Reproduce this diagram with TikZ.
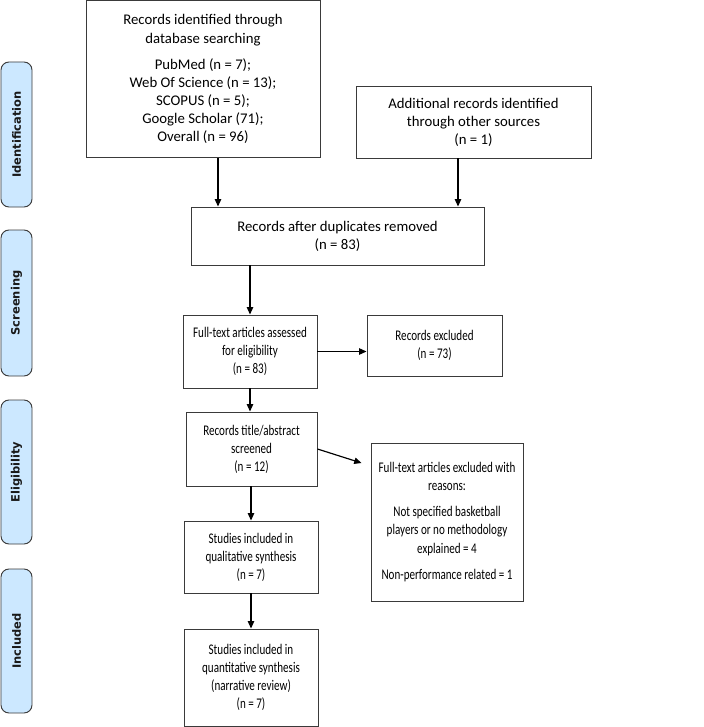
\documentclass[tikz,border=0pt]{standalone}
\usepackage{fontspec}
\setmainfont{Carlito}
\newfontfamily\narrowfont[FakeStretch=0.75]{Carlito}
\newfontfamily\sidefont{DejaVu Sans}
\usepackage{tikz}
\usetikzlibrary{arrows.meta, positioning, calc}

\definecolor{StageBlue}{HTML}{CCE8FF}
\definecolor{EdgeGray}{HTML}{3A3A3A}

\tikzset{
  box/.style={draw=EdgeGray, line width=0.8pt, align=center, inner sep=0pt,
    font=\fontsize{12.6}{15.4}\selectfont},
  narrowbox/.style={box, font=\narrowfont\fontsize{12.6}{15.4}\selectfont},
  stage/.style={draw=EdgeGray, fill=StageBlue, line width=0.8pt, rounded corners=2.4mm,
    minimum width=9.3mm, inner sep=0pt},
  stagetext/.style={rotate=90, font=\sidefont\bfseries\fontsize{9.8}{11}\selectfont, text=black!90},
  arr/.style={->, line width=1pt},
}

\begin{document}
\begin{tikzpicture}[x=0.3mm, y=-0.3mm, >={Triangle[length=2.2mm, width=1.9mm]}]
  \useasboundingbox (0,0) rectangle (704,727);
  % stages on the left
  \node[stage, minimum height=43.5mm] (ident) at (16.5,134.5) {};
  \node[stagetext] at (ident) {Identification};
  \node[stage, minimum height=43.8mm] (screen) at (16.5,303) {};
  \node[stagetext] at (screen) {Screening};
  \node[stage, minimum height=43.2mm] (elig) at (16.5,472) {};
  \node[stagetext] at (elig) {Eligibility};
  \node[stage, minimum height=43.2mm] (incl) at (16.5,641) {};
  \node[stagetext] at (incl) {Included};

  % boxes
  \node[box, minimum width=70.2mm, minimum height=47.1mm] (dbsearch) at (203,79)
    {Records identified through\\ database searching\\[6.8pt]
     PubMed (n = 7);\\ Web Of Science (n = 13);\\ SCOPUS (n = 5);\\
     Google Scholar (71);\\ Overall (n = 96)};
  \node[box, minimum width=70.5mm, minimum height=21.6mm] (other) at (473.5,122)
    {Additional records identified\\ through other sources\\ (n = 1)};
  \node[box, minimum width=87.9mm, minimum height=17.4mm] (dedup) at (337.5,236)
    {Records after duplicates removed\\ (n = 83)};
  \node[narrowbox, minimum width=40.2mm, minimum height=21.9mm] (fulltext) at (250,351.5)
    {Full-text articles assessed\\ for eligibility\\ (n = 83)};
  \node[narrowbox, minimum width=40.5mm, minimum height=18.3mm] (excl) at (434.5,345.5)
    {Records excluded\\ (n = 73)};
  \node[narrowbox, minimum width=39.3mm, minimum height=22.2mm] (screened) at (251.5,449)
    {Records title/abstract\\ screened\\ (n = 12)};
  \node[narrowbox, minimum width=45.6mm, minimum height=47.4mm] (reasons) at (447,522)
    {Full-text articles excluded with\\ reasons:\\[6.8pt]
     Not specified basketball\\ players or no methodology\\ explained = 4\\[6.8pt]
     Non-performance related = 1};
  \node[narrowbox, minimum width=40.2mm, minimum height=21.6mm] (qual) at (251,557)
    {Studies included in\\ qualitative synthesis\\ (n = 7)};
  \node[narrowbox, minimum width=40.2mm, minimum height=29.1mm] (quant) at (251,677.5)
    {Studies included in\\ quantitative synthesis\\ (narrative review)\\ (n = 7)};

  % arrows
  \draw[arr] ([xshift=4.5mm]dbsearch.south) -- ([xshift=4.5mm]dbsearch.south |- dedup.north);
  \draw[arr] ([xshift=-4.65mm]other.south) -- ([xshift=-4.65mm]other.south |- dedup.north);
  \draw[arr] (dedup.south -| fulltext.north) -- (fulltext.north);
  \draw[arr] (fulltext.east) -- (fulltext.east -| excl.west);
  \draw[arr] (fulltext.south) -- (fulltext.south |- screened.north);
  \coordinate (reasonsin) at ([shift={(-9,-59)}]reasons.west);
  \draw[arr] (screened.east) -- (reasonsin);
  \draw[arr] (screened.south -| qual.north) -- (qual.north);
  \draw[arr] (qual.south) -- (quant.north);
\end{tikzpicture}
\end{document}
